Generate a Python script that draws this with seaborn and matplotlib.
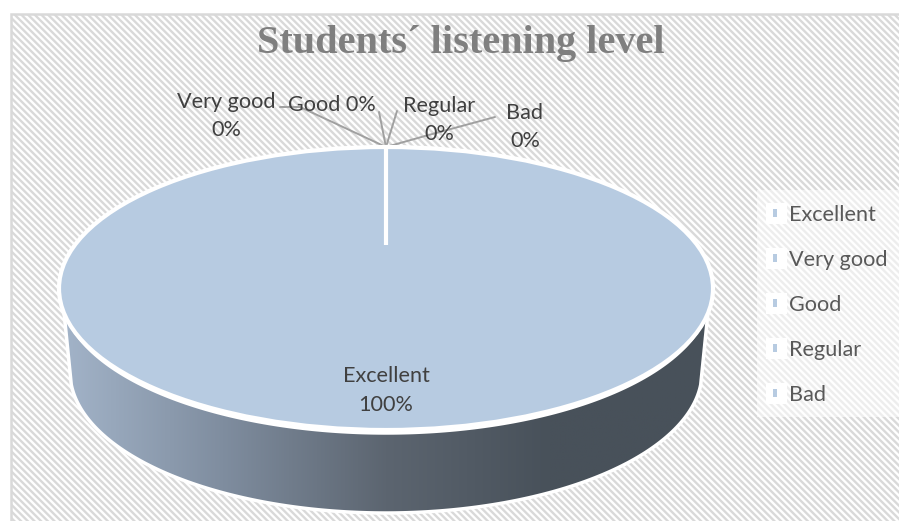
import numpy as np
import seaborn as sns
from matplotlib import pyplot as plt
from matplotlib.colors import LinearSegmentedColormap
from matplotlib.patches import Ellipse, Polygon, Rectangle

categories = ["Excellent", "Very good", "Good", "Regular", "Bad"]
shares = [100, 0, 0, 0, 0]
title = "Students´ listening level"

sns.set_theme(style="white")
plt.rcParams["font.family"] = ["Lato", "DejaVu Sans"]
plt.rcParams["hatch.linewidth"] = 1.7
plt.rcParams["hatch.color"] = "#e8e8e8"

W, H = 899, 521
PIE_BLUE = "#b7cbe1"

fig = plt.figure(figsize=(W / 100, H / 100), dpi=100, facecolor="white")

# background layer, works in image pixels
bg = fig.add_axes([0, 0, 1, 1])
bg.set_xlim(0, W)
bg.set_ylim(H, 0)
bg.axis("off")
bg.add_patch(Rectangle((11, 14), W, H, facecolor="white", edgecolor="#d9d9d9", linewidth=1.8, hatch="\\" * 5))
bg.text(461, 43, title, family="Liberation Serif", weight="bold", fontsize=29, color="#7f7f7f", ha="center", va="center")

# side wall of the pie
cx, cy, rx, ry = 386, 288.5, 327, 141.5
t = np.linspace(0, np.pi, 200)
top_x = cx + (rx - 3) * np.cos(t)
top_y = cy + 4 + (ry - 1) * np.sin(t)
bot_rx, bot_ry, bot_cy = 316, 141, 372
start = np.arcsin(0.09)
t2 = np.linspace(np.pi - start, start, 200)
bot_x = cx + bot_rx * np.cos(t2)
bot_y = bot_cy + bot_ry * np.sin(t2)
outline = np.column_stack([np.r_[top_x, bot_x], np.r_[top_y, bot_y]])
wall = Polygon(outline, closed=True, facecolor="none", edgecolor="white", linewidth=2.5, zorder=2)
bg.add_patch(wall)
wall_cmap = LinearSegmentedColormap.from_list("wall", ["#a3b4c9", "#7f8d9f", "#5c6570", "#48515a", "#48515a"])
img = bg.imshow(np.linspace(0, 1, 256)[None, :], extent=(60, 712, 520, 300), cmap=wall_cmap, aspect="auto", zorder=1)
img.set_clip_path(wall)
bg.set_xlim(0, W)
bg.set_ylim(H, 0)

# leader lines and zero labels
for path in [[(386, 147), (300, 107), (280, 107)], [(386, 147), (379, 112)], [(386, 147), (397, 111)], [(386, 147), (425, 136), (495, 117)]]:
    xs, ys = zip(*path)
    bg.plot(xs, ys, color="#a0a0a0", linewidth=1.4, zorder=3)
label_size = 15.6
bg.text(226, 116, "Very good\n0%", fontsize=label_size, color="#404040", ha="center", va="center", linespacing=1.55, zorder=4)
bg.text(332, 105, "Good 0%", fontsize=label_size, color="#404040", ha="center", va="center", zorder=4)
bg.text(439, 120, "Regular\n0%", fontsize=label_size, color="#404040", ha="center", va="center", linespacing=1.55, zorder=4)
bg.text(525, 127, "Bad\n0%", fontsize=label_size, color="#404040", ha="center", va="center", linespacing=1.55, zorder=4)

# legend backing
bg.add_patch(Rectangle((757, 190), 142, 227, facecolor="white", alpha=0.55, edgecolor="none", zorder=1))
for row in range(len(categories)):
    bg.add_patch(Rectangle((766, 203 + 45 * row), 21, 21, facecolor="white", edgecolor="none", zorder=1))

# the pie itself, squashed into an ellipse
ax = fig.add_axes([(cx - rx) / W, 1 - (cy + ry) / H, 2 * rx / W, 2 * ry / H])
ax.patch.set_alpha(0)
wedges, _ = ax.pie(shares, colors=[PIE_BLUE] * len(shares), startangle=90, counterclock=False, radius=1, wedgeprops={"linewidth": 0})
ax.set_aspect("auto")
ax.set_xlim(-1, 1)
ax.set_ylim(-1, 1)
ax.add_patch(Ellipse((0, 0), 2, 2, facecolor="none", edgecolor="white", linewidth=3, clip_on=False))
ax.plot([0, 0], [1, 0.307], color="white", linewidth=3, solid_capstyle="butt")
ax.text(0, -0.72, "Excellent\n100%", fontsize=label_size, color="#404040", ha="center", va="center", linespacing=1.55)

# legend uses the wedges so it follows the categories
leg = ax.legend(
    wedges, categories, loc="upper left", bbox_to_anchor=((773 - (cx - rx)) / (2 * rx), 1 - (205 - (cy - ry)) / (2 * ry)),
    frameon=False, fontsize=label_size, labelcolor="#595959", handlelength=0.2, handleheight=0.2,
    handletextpad=0.55, labelspacing=1.155, borderpad=0, borderaxespad=0,
)

fig.savefig("out.png", dpi=100)
